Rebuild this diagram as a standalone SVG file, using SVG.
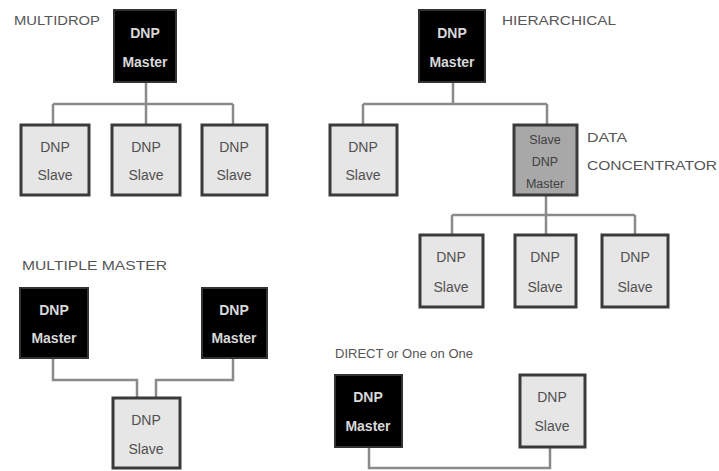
<svg xmlns="http://www.w3.org/2000/svg" width="719" height="471" viewBox="0 0 719 471">
<style>
.bg{fill:#ffffff}
.master rect{fill:#000000;stroke:#333333;stroke-width:2}
.master text{fill:#d8d8d8;font-family:"Liberation Sans",Arial,sans-serif;font-size:14px;font-weight:bold;text-anchor:middle}
.slave rect{fill:#e6e6e6;stroke:#3a3a3a;stroke-width:3}
.slave text{fill:#505050;font-family:"Liberation Sans",Arial,sans-serif;font-size:14px;text-anchor:middle}
.conc rect{fill:#a8a8a8;stroke:#3a3a3a;stroke-width:3}
.conc text{fill:#404040;font-family:"Liberation Sans",Arial,sans-serif;font-size:12.5px;text-anchor:middle}
.label{fill:#555555;font-family:"Liberation Sans",Arial,sans-serif;font-size:13px}
.wire{fill:none;stroke:#8a8a8a;stroke-width:2.5}
</style>
<rect class="bg" x="0" y="0" width="719" height="471"/>
<g id="connectors">
<path class="wire" d="M146 82 V104 M53 104 H233 M53 104 V125 M146 104 V125 M233 104 V125"/>
<path class="wire" d="M453 82 V104 M363 104 H547 M363 104 V125 M547 104 V125"/>
<path class="wire" d="M546 195 V215 M452 215 H635 M452 215 V235 M546 215 V235 M635 215 V235"/>
<path class="wire" d="M53 358 V380 H137 V398 M233 358 V380 H156 V398"/>
<path class="wire" d="M369 447 V468 H550 V447"/>
</g>
<g id="labels">
<text class="label" x="14" y="25" textLength="86" lengthAdjust="spacingAndGlyphs">MULTIDROP</text>
<text class="label" x="502" y="25" textLength="114" lengthAdjust="spacingAndGlyphs">HIERARCHICAL</text>
<text class="label" x="587" y="142" textLength="40" lengthAdjust="spacingAndGlyphs">DATA</text>
<text class="label" x="587" y="170" textLength="130" lengthAdjust="spacingAndGlyphs">CONCENTRATOR</text>
<text class="label" x="22" y="270" textLength="145" lengthAdjust="spacingAndGlyphs">MULTIPLE MASTER</text>
<text class="label" x="335" y="358" textLength="138" lengthAdjust="spacingAndGlyphs">DIRECT or One on One</text>
</g>
<g id="md-master" class="master"><rect x="114" y="10" width="62" height="72"/><text x="145" y="38">DNP</text><text x="145" y="67">Master</text></g>
<g id="md-slave1" class="slave"><rect x="21" y="125" width="68" height="70"/><text x="55" y="152">DNP</text><text x="55" y="180">Slave</text></g>
<g id="md-slave2" class="slave"><rect x="112" y="125" width="68" height="70"/><text x="146" y="152">DNP</text><text x="146" y="180">Slave</text></g>
<g id="md-slave3" class="slave"><rect x="202" y="125" width="65" height="70"/><text x="234" y="152">DNP</text><text x="234" y="180">Slave</text></g>
<g id="h-master" class="master"><rect x="419" y="10" width="66" height="72"/><text x="452" y="38">DNP</text><text x="452" y="67">Master</text></g>
<g id="h-slave" class="slave"><rect x="330" y="125" width="67" height="70"/><text x="363" y="152">DNP</text><text x="363" y="180">Slave</text></g>
<g id="h-concentrator" class="conc"><rect x="514" y="125" width="63" height="70"/><text x="545" y="144">Slave</text><text x="545" y="166">DNP</text><text x="545" y="188">Master</text></g>
<g id="h-slave1" class="slave"><rect x="420" y="235" width="63" height="72"/><text x="451" y="262">DNP</text><text x="451" y="292">Slave</text></g>
<g id="h-slave2" class="slave"><rect x="515" y="235" width="61" height="72"/><text x="545" y="262">DNP</text><text x="545" y="292">Slave</text></g>
<g id="h-slave3" class="slave"><rect x="602" y="235" width="66" height="72"/><text x="635" y="262">DNP</text><text x="635" y="292">Slave</text></g>
<g id="mm-master1" class="master"><rect x="20" y="288" width="68" height="70"/><text x="54" y="315">DNP</text><text x="54" y="343">Master</text></g>
<g id="mm-master2" class="master"><rect x="202" y="288" width="65" height="70"/><text x="234" y="315">DNP</text><text x="234" y="343">Master</text></g>
<g id="mm-slave" class="slave"><rect x="113" y="398" width="67" height="70"/><text x="146" y="425">DNP</text><text x="146" y="454">Slave</text></g>
<g id="d-master" class="master"><rect x="335" y="375" width="67" height="72"/><text x="368" y="402">DNP</text><text x="368" y="431">Master</text></g>
<g id="d-slave" class="slave"><rect x="520" y="375" width="65" height="72"/><text x="552" y="402">DNP</text><text x="552" y="431">Slave</text></g>
</svg>
